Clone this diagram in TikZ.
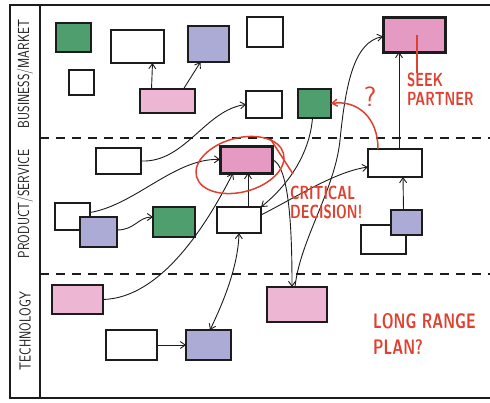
\documentclass[tikz,border=0pt]{standalone}
\usetikzlibrary{arrows.meta,shapes.geometric}
\definecolor{ink}{HTML}{1C1C1C}
\definecolor{markred}{HTML}{E0402F}
\definecolor{greenfill}{HTML}{4E9E6E}
\definecolor{bluefill}{HTML}{ABABD6}
\definecolor{pinkfill}{HTML}{EDB6D2}
\definecolor{deeppink}{HTML}{E49AC2}
\newcommand{\hand}[1]{\scalebox{0.78}[1]{#1}}
\newcommand{\marker}[1]{\scalebox{0.71}[1]{#1}}

\begin{document}
\begin{tikzpicture}[x=1pt,y=-1pt,
  >={Straight Barb[length=5pt,width=7pt]},
  dims/.style 2 args={minimum width=#1pt, minimum height=#2pt},
  box/.style={draw=ink, line width=1.3pt, inner sep=0pt, outer sep=0pt},
  plain/.style={box, fill=white},
  greenbox/.style={box, fill=greenfill},
  bluebox/.style={box, fill=bluefill},
  pinkbox/.style={box, fill=pinkfill},
  keybox/.style={box, fill=deeppink, line width=3pt},
  link/.style={draw=ink, line width=0.9pt, ->},
  redlink/.style={draw=markred, line width=1.5pt, ->},
  redlabel/.style={text=markred, font=\fontsize{19}{18.5}\sffamily\bfseries, align=left, inner sep=0pt},
  lanelabel/.style={text=ink, font=\fontsize{16}{16}\sffamily, rotate=90, inner sep=0pt},
  lane/.style={draw=ink, line width=1.2pt, dash pattern=on 9pt off 7pt}]

\useasboundingbox (0,0) rectangle (490,402);

% === FRAME AND LANES ===
\draw[ink, line width=1.6pt] (490,5) -- (10,5) -- (10,398) -- (490,398);
\draw[ink, line width=1.6pt] (40,5) -- (40,398);
\draw[lane] (40,138) -- (490,138);
\draw[lane] (40,274) -- (490,274);

\node[lanelabel] (laneBiz) at (25,74) {\hand{BUSINESS/MARKET}};
\node[lanelabel] (laneProd) at (25,204) {\hand{PRODUCT/SERVICE}};
\node[lanelabel] (laneTech) at (25,331) {\hand{TECHNOLOGY}};

% === BUSINESS / MARKET ===
\node[greenbox, dims={35}{29}] (bizGreen) at (73.5,37.5) {};
\node[plain, dims={53}{33}] (bizWide) at (137.5,46.5) {};
\node[bluebox, dims={41}{36}] (bizBlue) at (208.5,44) {};
\node[plain, dims={25}{25}] (bizSmall) at (81.5,82.5) {};
\node[pinkbox, dims={55}{24}] (bizPink) at (167.5,101) {};
\node[plain, dims={36}{30}] (bizTop) at (265,32) {};
\node[keybox, dims={62}{35}] (partner) at (414,34.5) {};
\node[plain, dims={36}{27}] (bizMid) at (264,104.5) {};
\node[greenbox, dims={33}{29}] (bizGreenR) at (314.5,103.5) {};

% === PRODUCT / SERVICE ===
\node[keybox, dims={52}{27}] (crit) at (246,159.5) {};
\node[plain, dims={45}{26}] (prodA) at (118.5,161) {};
\node[plain, dims={35}{27}] (prodB) at (72.5,216.5) {};
\node[bluebox, dims={37}{30}] (prodBlue) at (98.5,232) {};
\node[greenbox, dims={42}{30}] (prodGreen) at (174,222) {};
\node[plain, dims={44}{26}] (prodMid) at (239,220) {};
\node[plain, dims={54}{28}] (prodRight) at (395,163) {};
\node[plain, dims={45}{29}] (prodRightB) at (383.5,239.5) {};
\node[bluebox, dims={31}{25}] (prodRightBlue) at (406.5,222.5) {};

% === TECHNOLOGY ===
\node[pinkbox, dims={51}{29}] (techPink) at (77.5,299.5) {};
\node[plain, dims={51}{30}] (techLeft) at (131.5,345) {};
\node[bluebox, dims={45}{30}] (techBlue) at (208.5,345) {};
\node[pinkbox, dims={60}{35}] (techPinkR) at (297,304.5) {};

% === CONNECTORS ===
\draw[link] ([xshift=-16pt]bizPink.north) -- ([xshift=15pt]bizWide.south);
\draw[link] ([xshift=16pt]bizPink.north) -- ([xshift=-8pt]bizBlue.south);
\draw[link] (prodA.east) .. controls (185,163) and (205,110) .. (bizMid.west);
\draw[link] ([yshift=4pt]prodB.east) .. controls (135,205) and (175,158) .. (crit.west);
\draw[link] ([yshift=2pt]prodBlue.east) .. controls (135,230) and (138,217) .. ([yshift=5pt]prodGreen.west);
\draw[link] (techPink.east) .. controls (160,298) and (205,228) .. ([xshift=13pt]crit.south west);
\draw[link] ([xshift=9pt]prodMid.north) -- ([xshift=2pt]crit.south);
\draw[link] ([xshift=-2pt]bizGreenR.south) .. controls (310,150) and (292,182) .. (prodMid.north east);
\draw[link] ([yshift=5pt]prodMid.east) .. controls (300,195) and (335,172) .. ([yshift=-4pt]prodRight.west);
\draw[link] (crit.east) .. controls (290,165) and (292,235) .. ([xshift=-5pt]techPinkR.north);
\draw[link] ([xshift=-3pt]prodRightBlue.north) -- ([xshift=8pt]prodRight.south);
\draw[link] ([xshift=4pt]prodRight.north) -- ([xshift=-15pt]partner.south);
\draw[link] ([xshift=-2pt]techPinkR.north) .. controls (300,240) and (335,190) .. (340,140)
  .. controls (346,80) and (355,42) .. ([yshift=-2pt]partner.west);
\draw[link, <->] (prodMid.south) .. controls (238,268) and (222,305) .. ([xshift=1.5pt]techBlue.north);
\draw[link] (techLeft.east) -- (techBlue.west);

% === RED NOTES ===
\node[draw=markred, line width=1.5pt, ellipse, dims={90}{54}, rotate=15] (ring) at (240,165) {};
\node[redlabel, anchor=north west] (critnote) at (290,186) {\marker{CRITICAL}\\\marker{DECISION!}};
\draw[markred, line width=1.5pt] (ring.25) -- ([xshift=3pt,yshift=12pt]critnote.north west);

\node[redlabel, anchor=north west] (seeknote) at (407,73) {\marker{SEEK}\\\marker{PARTNER}};
\draw[markred, line width=1.5pt] ([xshift=3pt]partner.center) -- ([xshift=10pt]seeknote.north west);

\node[redlabel, font=\fontsize{28}{28}\sffamily] (qmark) at (370,97) {?};
\draw[redlink] ([xshift=-17pt]prodRight.north) .. controls (378,118) and (358,100) .. (bizGreenR.east);

\node[redlabel, font=\fontsize{21}{21}\sffamily\bfseries, anchor=north west] (plannote) at (373,313)
  {\marker{LONG RANGE}\\[5pt]\marker{PLAN?}};

\end{tikzpicture}
\end{document}
